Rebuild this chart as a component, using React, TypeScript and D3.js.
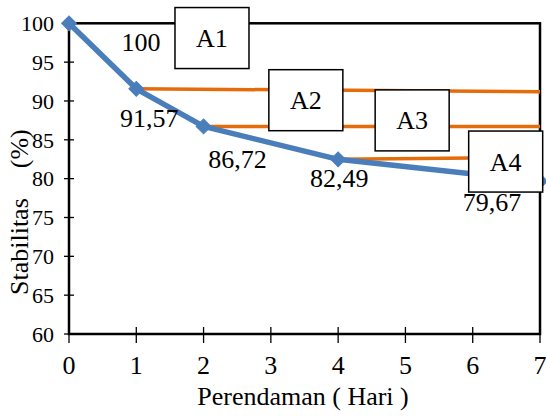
import React from "react";
import * as d3 from "d3";

const days = [0, 1, 2, 4, 7];
const stability = [100, 91.57, 86.72, 82.49, 79.67];
const valueLabels = ["100", "91,57", "86,72", "82,49", "79,67"];
// label offsets (pixels) from each point
const labelDx = [72, 13, 34, 1, -48];
const labelDy = [19, 29, 32, 19, 21];

const xTicks = [0, 1, 2, 3, 4, 5, 6, 7];
const yTicks = [60, 65, 70, 75, 80, 85, 90, 95, 100];

// orange reference lines: start day/value -> end day/value
const refStartDay = [1, 2, 4];
const refStartVal = [91.57, 86.72, 82.49];
const refEndDay = [7, 7, 6];
const refEndVal = [91.2, 86.7, 82.65];

// annotation boxes (centre in data units)
const boxNames = ["A1", "A2", "A3", "A4"];
const boxDay = [2.125, 3.52, 5.1, 6.49];
const boxVal = [98.1, 90.1, 87.5, 82.2];

const W = 546;
const H = 416;

function T(props: any) {
  const { children, size, ...rest } = props;
  return (
    <text
      fill="#000"
      fontFamily="Liberation Serif"
      fontSize={size}
      style={{ fontFamily: `'Liberation Serif', monospace` }}
      {...rest}
    >
      {children}
    </text>
  );
}

export default function App() {
  const x = d3.scaleLinear().domain([0, 7]).range([69, 540]);
  const y = d3.scaleLinear().domain([60, 100]).range([334, 23.3]);
  const pts = days.map((d, i) => [x(d), y(stability[i])] as [number, number]);
  const line = d3.line()(pts) || "";
  const diamond = d3.symbol(d3.symbolSquare, 110)() || "";
  const bw = 74;
  const bh = 61;

  return (
    <svg width={W} height={H} style={{ position: "absolute", left: 0, top: 0, background: "#fff" }}>
      <rect x={0} y={0} width={W} height={H} fill="#fff" />
      {yTicks.map((t) => (
        <g key={"y" + t}>
          <line x1={x(0) - 5} x2={x(0) + 5} y1={y(t)} y2={y(t)} stroke="#000" strokeWidth={1.3} />
          <T x={54} y={y(t)} dy="0.35em" textAnchor="end" size={22}>
            {t}
          </T>
        </g>
      ))}
      {xTicks.map((t) => (
        <g key={"x" + t}>
          <line x1={x(t)} x2={x(t)} y1={y(60) - 7} y2={y(60) + 9} stroke="#000" strokeWidth={1.3} />
          <T x={x(t)} y={374} textAnchor="middle" size={26}>
            {t}
          </T>
        </g>
      ))}
      <rect
        x={x(0)}
        y={y(100)}
        width={x(7) - x(0)}
        height={y(60) - y(100)}
        fill="none"
        stroke="#000"
        strokeWidth={2.5}
      />
      {refStartDay.map((d, i) => (
        <line
          key={"r" + i}
          x1={x(d)}
          y1={y(refStartVal[i])}
          x2={x(refEndDay[i])}
          y2={y(refEndVal[i])}
          stroke="#E46C0A"
          strokeWidth={3.5}
        />
      ))}
      <path d={line} fill="none" stroke="#4A7EBB" strokeWidth={5.5} strokeLinejoin="round" />
      {pts.map((p, i) => (
        <path
          key={"m" + i}
          d={diamond}
          transform={`translate(${p[0]},${p[1]}) rotate(45)`}
          fill="#4A7EBB"
          stroke="#4A7EBB"
          strokeWidth={1}
        />
      ))}
      {pts.map((p, i) => (
        <T
          key={"l" + i}
          x={p[0] + labelDx[i]}
          y={p[1] + labelDy[i]}
          dy="0.35em"
          textAnchor="middle"
          size={26}
        >
          {valueLabels[i]}
        </T>
      ))}
      {boxNames.map((n, i) => (
        <g key={n}>
          <rect
            x={x(boxDay[i]) - bw / 2}
            y={y(boxVal[i]) - bh / 2}
            width={bw}
            height={bh}
            fill="#fff"
            stroke="#000"
            strokeWidth={1.5}
          />
          <T x={x(boxDay[i])} y={y(boxVal[i])} dy="0.35em" textAnchor="middle" size={26}>
            {n}
          </T>
        </g>
      ))}
      <T x={303} y={405} textAnchor="middle" size={26}>
        Perendaman ( Hari )
      </T>
      <T transform="translate(28,295) rotate(-90)" textAnchor="start" size={26}>
        Stabilitas
        <tspan dx={30}>(%)</tspan>
      </T>
    </svg>
  );
}
